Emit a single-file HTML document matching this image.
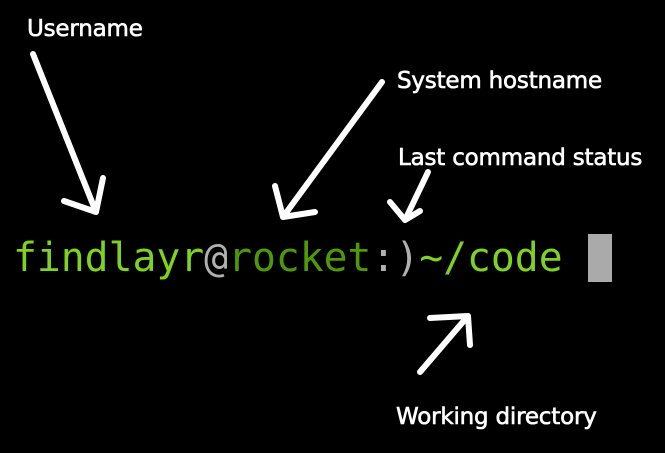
<!DOCTYPE html>
<html><head><meta charset="utf-8"><style>
html,body{margin:0;padding:0;background:#000;width:665px;height:453px;overflow:hidden}
.lbl{position:absolute;color:#fff;font-family:"DejaVu Sans","Liberation Sans",sans-serif;font-size:23px;font-weight:normal;-webkit-text-stroke:0.6px #fff;letter-spacing:-0.2px;white-space:nowrap;line-height:26px}
.p{position:absolute;left:13px;top:234px;font-family:"DejaVu Sans Mono","Liberation Mono",monospace;font-size:39.7px;line-height:48px;white-space:pre}
.g{color:#7ed321}.d{color:#4e9a06}.w{color:#b0b0b0}
.cur{position:absolute;left:588px;top:234px;width:24px;height:48px;background:#aaa}
</style></head><body>
<div class="lbl" style="left:27px;top:16px">Username</div>
<div class="lbl" style="left:397px;top:68px">System hostname</div>
<div class="lbl" style="left:398px;top:145px">Last command status</div>
<div class="lbl" style="left:396px;top:404px">Working directory</div>
<div class="p"><span class="g">findlayr</span><span class="w">@</span><span class="d">rocket</span><span class="w">:)</span><span class="g">~/code</span></div>
<div class="cur"></div>
<svg width="665" height="453" style="position:absolute;left:0;top:0" fill="none" stroke="#fff" stroke-width="6" stroke-linecap="round" stroke-linejoin="round">
<path d="M33 54 L96 212 M64 201 L96 212 L103 178"/>
<path d="M382 82 L283 217 M275 186 L283 217 L315 212"/>
<path d="M428 172 L405 220 M390 202 L405 220 L420 211"/>
<path d="M420 372 L468 316 M430 318 L468 316 L470 345"/>
</svg>
</body></html>
